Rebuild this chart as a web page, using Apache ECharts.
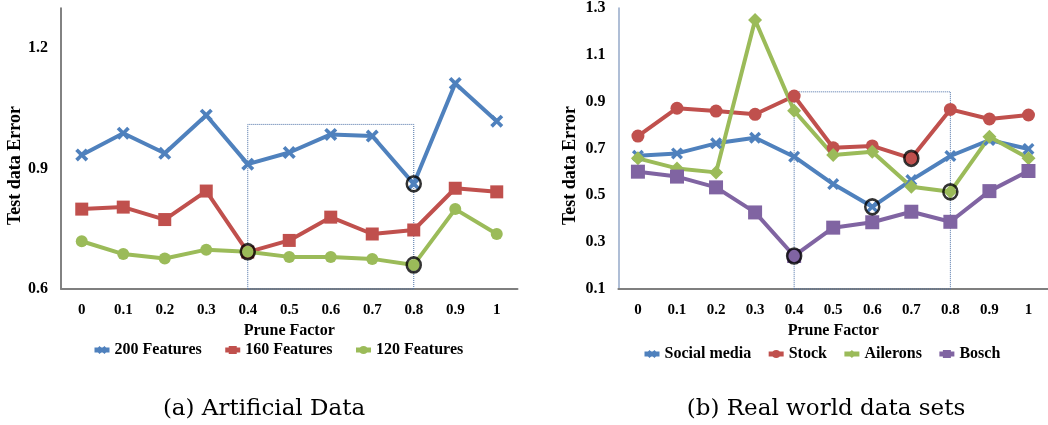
<!DOCTYPE html>
<html><head><meta charset="utf-8">
<script src="https://cdn.jsdelivr.net/npm/echarts@6.0.0/dist/echarts.min.js"></script>
<style>html,body{margin:0;padding:0;background:#fff}#c{width:1048px;height:425px}</style>
</head><body><div id="c"></div>
<script>
// ---- data ----
const pruneFactors = ['0','0.1','0.2','0.3','0.4','0.5','0.6','0.7','0.8','0.9','1'];

// (a) Artificial data
const features200 = [0.934,0.988,0.938,1.033,0.911,0.940,0.985,0.981,0.862,1.112,1.018];
const features160 = [0.799,0.804,0.773,0.844,0.692,0.721,0.779,0.737,0.747,0.851,0.842];
const features120 = [0.719,0.687,0.676,0.698,0.693,0.680,0.680,0.675,0.660,0.799,0.737];

// (b) Real world data sets
const socialMedia = [0.669,0.679,0.722,0.746,0.665,0.548,0.451,0.565,0.668,0.736,0.698];
const stock       = [0.753,0.872,0.860,0.846,0.924,0.703,0.711,0.658,0.867,0.826,0.843];
const ailerons    = [0.658,0.615,0.598,1.249,0.861,0.672,0.686,0.537,0.515,0.750,0.658];
const bosch       = [0.601,0.580,0.534,0.427,0.241,0.362,0.385,0.430,0.387,0.518,0.604];

// highlighted (circled) points: [series values, category index]
const leftHighlights  = [[features120,4],[features200,8],[features120,8]];
const rightHighlights = [[bosch,4],[socialMedia,6],[stock,7],[ailerons,8]];

// dotted boxes: [from category, to category, top value]
const leftBox  = ['0.4','0.8',1.01];
const rightBox = ['0.4','0.8',0.942];

const leftYTicks  = {min:0.6, max:1.3, interval:0.3};
const rightYTicks = {min:0.1, max:1.3, interval:0.2};

const captions = ['(a) Artificial Data','(b) Real world data sets'];

// ---- style ----
const BLUE='#4F81BD', RED='#C0504D', GREEN='#9BBB59', PURPLE='#8064A2';
const FONT='Liberation Serif';
const xSym='path://M2,0 L5,3 L8,0 L10,2 L7,5 L10,8 L8,10 L5,7 L2,10 L0,8 L3,5 L0,2 Z';
const boldTxt = (size)=>({fontFamily:FONT,fontWeight:'bold',fontSize:size,color:'#000'});

function lineSeries(name, data, color, symbol, size, gi, box){
  const s = {name, type:'line', xAxisIndex:gi, yAxisIndex:gi, data,
    symbol, symbolSize:size, showSymbol:true,
    lineStyle:{color, width:4}, itemStyle:{color},
    emphasis:{disabled:true}, animation:false, z:2};
  if(box){
    s.markArea = {silent:true,
      itemStyle:{color:'rgba(0,0,0,0)', borderColor:'#4A6FA5', borderWidth:1, borderType:'dotted'},
      data:[[{xAxis:box[0], yAxis:(gi===0?leftYTicks.min:rightYTicks.min)},{xAxis:box[1], yAxis:box[2]}]]};
  }
  return s;
}
function highlightSeries(list, gi){
  return {type:'scatter', xAxisIndex:gi, yAxisIndex:gi, silent:true, animation:false, z:5,
    symbol:'circle', symbolSize:[14,15],
    itemStyle:{color:'rgba(0,0,0,0)', borderColor:'#000', borderWidth:2.6},
    data:list.map(([arr,i])=>[pruneFactors[i], arr[i]])};
}
function xAxis(gi){
  return {type:'category', gridIndex:gi, data:pruneFactors, boundaryGap:true,
    axisLine:{show:true, lineStyle:{color:'#7F7F7F', width:2}}, axisTick:{show:false},
    axisLabel:Object.assign({margin:14, interval:0}, boldTxt(15)),
    name:'Prune Factor', nameLocation:'middle', nameGap:32, nameTextStyle:boldTxt(16)};
}
function yAxis(gi, t, lineColor, gap){
  return {type:'value', gridIndex:gi, min:t.min, max:t.max, interval:t.interval,
    splitLine:{show:false}, axisTick:{show:false},
    axisLine:{show:true, lineStyle:{color:lineColor, width:1.5}},
    axisLabel:Object.assign({margin:13, showMaxLabel: gi===1, formatter:v=>v.toFixed(1)}, boldTxt(16)),
    name:'Test data Error', nameLocation:'middle', nameGap:gap,
    nameTextStyle:Object.assign({padding:[0,34,0,0]}, boldTxt(18))};
}
const legendBase = {itemWidth:15, itemHeight:10, textStyle:boldTxt(16), selectedMode:false,
  padding:0, lineStyle:{width:5}};

const chart = echarts.init(document.getElementById('c'), null, {renderer:'canvas'});
chart.setOption({
  backgroundColor:'#fff',
  animation:false,
  grid:[
    {left:61, top:8, width:456.5, height:281},
    {left:618.4, top:8, width:438.2, height:281}
  ],
  xAxis:[xAxis(0), xAxis(1)],
  yAxis:[yAxis(0,leftYTicks,'#595959',35), yAxis(1,rightYTicks,'#95A9C8',39)],
  legend:[
    Object.assign({data:['200 Features','160 Features','120 Features'], left:92, top:342, itemGap:21}, legendBase),
    Object.assign({data:['Social media','Stock','Ailerons','Bosch'], left:642, top:346, itemGap:15}, legendBase)
  ],
  series:[
    lineSeries('200 Features', features200, BLUE, xSym, 13, 0, leftBox),
    lineSeries('160 Features', features160, RED, 'rect', 13, 0),
    lineSeries('120 Features', features120, GREEN, 'circle', 12, 0),
    highlightSeries(leftHighlights, 0),
    lineSeries('Social media', socialMedia, BLUE, xSym, 12, 1, rightBox),
    lineSeries('Stock', stock, RED, 'circle', 13, 1),
    lineSeries('Ailerons', ailerons, GREEN, 'diamond', 14, 1),
    lineSeries('Bosch', bosch, PURPLE, 'rect', 14, 1),
    highlightSeries(rightHighlights, 1)
  ],
  graphic:[
    {type:'text', x:264, y:409, style:{text:captions[0], font:'23px "DejaVu Serif"', fill:'#000', align:'center', verticalAlign:'middle'}},
    {type:'text', x:826, y:409, style:{text:captions[1], font:'23px "DejaVu Serif"', fill:'#000', align:'center', verticalAlign:'middle'}}
  ]
});
</script></body></html>
